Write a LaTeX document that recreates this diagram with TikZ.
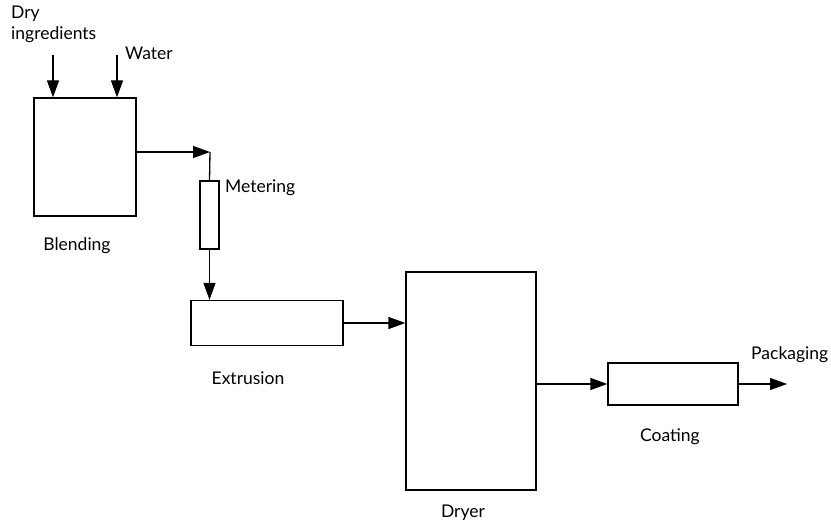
\documentclass[tikz,border=0pt]{standalone}
\usepackage{fontspec}
\setmainfont{Lato}
\usetikzlibrary{arrows.meta}
\tikzset{
  unit/.style={draw, line width=1.3pt, minimum width=#1, inner sep=0pt},
  lbl/.style={font=\fontsize{17.5}{21}\selectfont, inner sep=1pt},
  flow/.style={line width=1.3pt, -{Triangle[length=17pt,width=12pt]}}
}
\begin{document}
\begin{tikzpicture}[x=1pt, y=-1pt]
\useasboundingbox (0,0) rectangle (831,529);
% Anlagen
\node[unit=102pt, minimum height=118pt] (blend) at (85,157)   {};
\node[unit=19pt,  minimum height=68pt]  (meter) at (209.5,215) {};
\node[unit=152pt, minimum height=45pt]  (extr)  at (267,323)  {};
\node[unit=130pt, minimum height=218pt] (dryer) at (471,381)  {};
\node[unit=130pt, minimum height=42pt]  (coat)  at (673,384)  {};
% Zu- und Abfluesse
\coordinate (dryin)  at (53,55);
\coordinate (waterin) at (117,55);
\coordinate (turn)   at (210,152);
\coordinate (pack)   at (787,384);
\draw[flow] (dryin) -- (dryin |- blend.north);
\draw[flow] (waterin) -- (waterin |- blend.north);
\draw[flow] (blend.east |- turn) -- (turn);
\draw[line width=1.3pt] (turn) -- (meter.north);
\draw[flow] (meter.south) -- (meter.south |- extr.north);
\draw[flow] (extr.east) -- (extr.east -| dryer.west);
\draw[flow] (dryer.east |- coat.west) -- (coat.west);
\draw[flow] (coat.east) -- (pack);
% Beschriftungen
\node[lbl, anchor=north west, align=left] (drylbl) at (10,5) {Dry\\ingredients};
\node[lbl, anchor=west] (waterlbl)  at (124,53)  {Water};
\node[lbl] (blendlbl) at (77,246)  {Blending};
\node[lbl, anchor=west] (meterlbl)  at (224,188) {Metering};
\node[lbl] (extrlbl)  at (248,378) {Extrusion};
\node[lbl] (dryerlbl) at (463,513) {Dryer};
\node[lbl] (coatlbl)  at (670,437) {Coating};
\node[lbl, anchor=west] (packlbl)   at (750,355) {Packaging};
\end{tikzpicture}
\end{document}
